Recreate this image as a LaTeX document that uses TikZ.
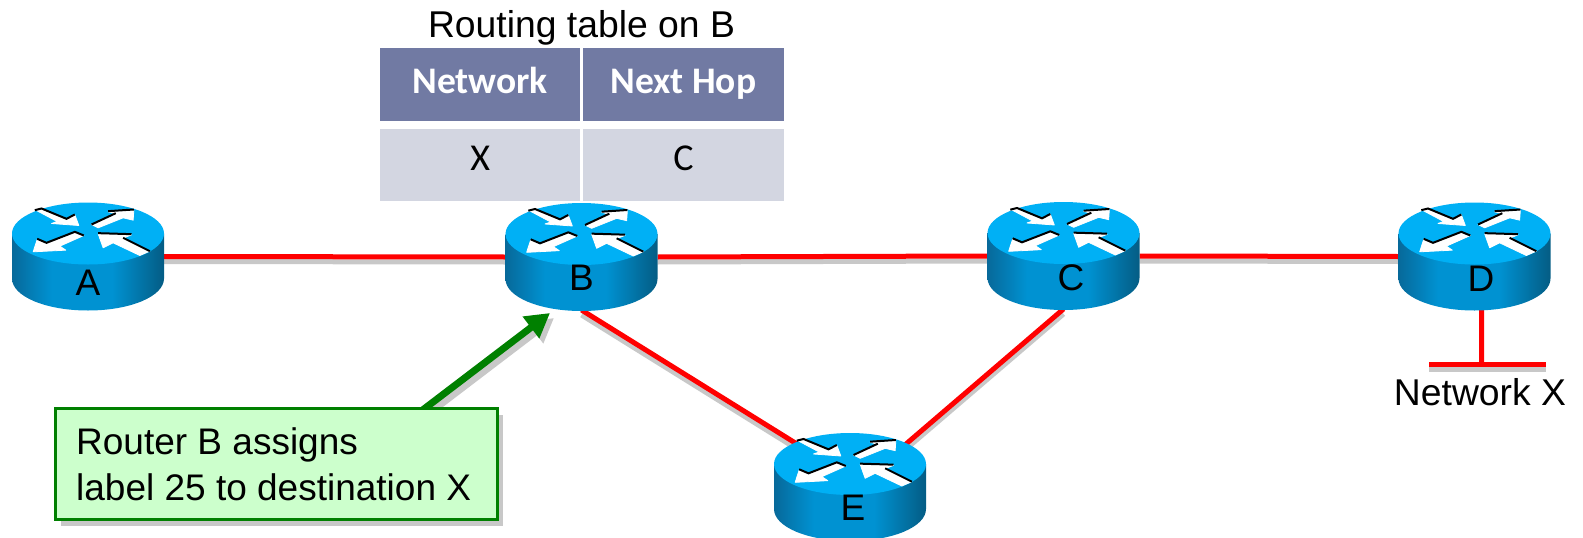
\documentclass[tikz,border=0pt]{standalone}
\usepackage{fontspec}
\setmainfont{Liberation Sans}
\newfontfamily\calfont{Carlito}
\usetikzlibrary{arrows.meta,shadows}
\pgfdeclarelayer{bg}
\pgfsetlayers{bg,main}
\definecolor{rtop}{HTML}{00B0F5}
\definecolor{rleft}{HTML}{07699A}
\definecolor{rmid}{HTML}{0092D2}
\definecolor{rright}{HTML}{045C84}
\definecolor{headfill}{HTML}{717AA3}
\definecolor{rowfill}{HTML}{D3D6E1}
\definecolor{shadowgray}{HTML}{C8C8C8}
\definecolor{notefill}{HTML}{CCFFCC}
\definecolor{notegreen}{HTML}{008000}
\pgfdeclarehorizontalshading{routerside}{100bp}{color(0bp)=(rleft); color(25bp)=(rleft); color(38bp)=(rmid); color(58bp)=(rmid); color(75bp)=(rright); color(100bp)=(rright)}
\newcommand{\fsz}[1]{\fontsize{#1}{#1}\selectfont}
\tikzset{
  x=1pt,y=-1pt,
  routerbox/.style={minimum width=152pt,minimum height=106pt,inner sep=0pt,outer sep=0pt},
  routerlabel/.style={inner sep=0pt,font=\fsz{37}},
  arrowfill/.style={fill=white,draw=white,line width=0.8pt,line join=round},
  arrowedge/.style={draw=black,line width=2pt,line cap=butt},
  link/.style={draw=red,line width=5pt},
  linkshadow/.style={draw=shadowgray,line width=5pt,transform canvas={yshift=-5pt}},
  headcell/.style={fill=headfill,minimum width=200.5pt,minimum height=72.5pt,inner sep=0pt},
  bodycell/.style={fill=rowfill,minimum width=200.5pt,minimum height=72pt,inner sep=0pt},
  headtext/.style={inner sep=0pt,anchor=base,text=white,font=\calfont\bfseries\fsz{37.5}},
  bodytext/.style={inner sep=0pt,anchor=base,text=black,font=\calfont\fsz{38}},
  notebox/.style={draw=notegreen,line width=3pt,fill=notefill,minimum width=442pt,minimum height=111pt,inner sep=0pt,
    drop shadow={shadow xshift=6pt,shadow yshift=-7pt,fill=shadowgray,opacity=1}},
  notetext/.style={inner sep=0pt,anchor=base west,font=\fsz{37}},
  callout/.style={draw=notegreen,line width=7pt,-{Triangle[length=24pt,width=26pt,fill=notegreen]}},
  calloutshadow/.style={draw=shadowgray,line width=7pt,-{Triangle[length=24pt,width=26pt,fill=shadowgray]},transform canvas={xshift=4pt,yshift=-5pt}},
  plaintext/.style={inner sep=0pt,font=\fsz{37.3}}
}
% name, centre x, centre y of the top disc, label, label x, label y
\newcommand{\router}[6]{%
  \begin{scope}[shift={(#2,#3)}]
    \shade[shading=routerside] (-76,0) -- (-76,45) .. controls (-76,63) and (-42,77) .. (0,77) .. controls (42,77) and (76,63) .. (76,45) -- (76,0) -- cycle;
    \fill[rtop] (-76,0) .. controls (-76,-17) and (-42,-31) .. (0,-31) .. controls (42,-31) and (76,-17) .. (76,0) .. controls (76,17) and (42,31) .. (0,31) .. controls (-42,31) and (-76,17) .. (-76,0) -- cycle;
    \begin{scope}[shift={(-61.5,-34)},scale=0.3333]
      \filldraw[arrowfill] (30,33) -- (45,28) -- (120,58) -- (145,46) -- (157,78) -- (75,72) -- (92,66) -- cycle;
      \draw[arrowedge] (25,32) -- (45,27) -- (120,58) -- (145,45);
      \filldraw[arrowfill] (322,32) -- (320,62) -- (290,55) -- (215,85) -- (195,75) -- (265,42) -- (245,37) -- cycle;
      \draw[arrowedge] (195,75) -- (268,41);
      \draw[arrowedge] (245,35) -- (322,30);
      \filldraw[arrowfill] (20,157) -- (32,120) -- (60,131) -- (145,98) -- (172,108) -- (100,140) -- (118,152) -- cycle;
      \draw[arrowedge] (32,118) -- (60,130) -- (145,97) -- (172,108);
      \filldraw[arrowfill] (215,103) -- (315,106) -- (290,116) -- (370,155) -- (340,168) -- (260,130) -- (230,145) -- cycle;
      \draw[arrowedge] (215,101) -- (315,104);
      \draw[arrowedge] (290,115) -- (370,155);
    \end{scope}
  \end{scope}
  \node[routerbox] (#1) at (#2,#3+23) {};
  \node[routerlabel] (#1label) at (#5,#6) {#4};
}
\begin{document}
\begin{tikzpicture}
\useasboundingbox (0,0) rectangle (1583,538);
% title and table
\node[plaintext,anchor=base] (title) at (581.5,37) {Routing table on B};
\node[headcell] (h1) at (480.2,84.5) {};
\node[headcell] (h2) at (683.4,84.5) {};
\node[bodycell] (c1) at (480.2,165) {};
\node[bodycell] (c2) at (683.4,165) {};
\node[headtext] (h1t) at (480.2,93.5) {Network};
\node[headtext] (h2t) at (683.4,93.5) {Next Hop};
\node[bodytext] (c1t) at (480.2,170) {X};
\node[bodytext] (c2t) at (683.4,170) {C};
% routers
\router{A}{88}{233.5}{A}{88}{283}
\router{B}{581.5}{234}{B}{581.5}{278}
\router{C}{1063.5}{233}{C}{1071}{278}
\router{D}{1474.5}{233.5}{D}{1481}{279}
\router{E}{850}{464}{E}{853}{508}
% network X
\coordinate (barL) at (1429,364);
\coordinate (barR) at (1546,364);
\coordinate (barM) at (1481.7,362);
\node[plaintext] (netx) at (1480,392) {Network X};
% links
\begin{pgfonlayer}{bg}
  \draw[linkshadow] (A.east) -- (B.west);
  \draw[linkshadow] (B.east) -- (C.west);
  \draw[linkshadow] (C.east) -- (D.west);
  \draw[linkshadow] (B.south) -- ([yshift=10pt]E.center);
  \draw[linkshadow] (C.south) -- ([yshift=-5pt]E.center);
  \draw[linkshadow] (barL) -- (barR);
  \draw[link] (A.east) -- (B.west);
  \draw[link] (B.east) -- (C.west);
  \draw[link] (C.east) -- (D.west);
  \draw[link] (B.south) -- ([yshift=10pt]E.center);
  \draw[link] (C.south) -- ([yshift=-5pt]E.center);
  \draw[link] ([xshift=7pt]D.south) -- (barM);
  \draw[link] (barL) -- (barR);
\end{pgfonlayer}
% callout
\coordinate (tip) at (550,313);
\coordinate (tail) at (420,412);
\draw[calloutshadow] (tail) -- (tip);
\draw[callout] (tail) -- (tip);
\node[notebox] (note) at (276,463.5) {};
\node[notetext] (note1) at (76,454) {Router B assigns};
\node[notetext] (note2) at (76,500) {label 25 to destination X};
\end{tikzpicture}
\end{document}
